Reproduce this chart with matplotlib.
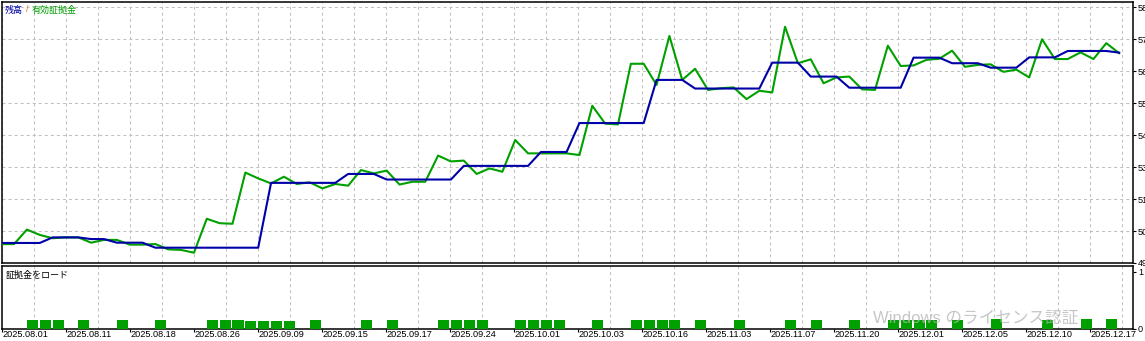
import matplotlib
matplotlib.use('Agg')
import matplotlib.pyplot as plt
import numpy as np

plt.rcParams['font.family'] = ['Liberation Sans', 'Noto Sans CJK JP']

# 残高 (balance) と 有効証拠金 (equity) - deal by deal
equity = [5028, 5028, 5080, 5061, 5049, 5052, 5052, 5033, 5043, 5043,
          5026, 5026, 5028, 5009, 5007, 4997, 5119, 5103, 5101, 5285,
          5264, 5246, 5270, 5244, 5250, 5228, 5244, 5238, 5294, 5282,
          5292, 5242, 5252, 5252, 5346, 5325, 5328, 5280, 5300, 5288,
          5402, 5354, 5354, 5354, 5354, 5348, 5525, 5461, 5458, 5676,
          5676, 5600, 5776, 5618, 5658, 5582, 5588, 5591, 5549, 5579,
          5573, 5809, 5678, 5692, 5606, 5627, 5630, 5584, 5582, 5741,
          5668, 5670, 5690, 5694, 5723, 5665, 5672, 5674, 5647, 5655,
          5627, 5764, 5693, 5693, 5717, 5693, 5750, 5714]

balance = [5032, 5032, 5032, 5032, 5052, 5052, 5052, 5046, 5046, 5033,
           5033, 5033, 5015, 5015, 5015, 5015, 5015, 5015, 5015, 5015,
           5015, 5248, 5248, 5248, 5248, 5248, 5248, 5280, 5280, 5280,
           5260, 5260, 5260, 5260, 5260, 5260, 5309, 5309, 5309, 5309,
           5309, 5309, 5359, 5359, 5359, 5463, 5463, 5463, 5463, 5463,
           5463, 5618, 5618, 5618, 5587, 5587, 5587, 5587, 5587, 5587,
           5680, 5680, 5680, 5630, 5630, 5630, 5590, 5590, 5590, 5590,
           5590, 5698, 5698, 5698, 5678, 5678, 5678, 5662, 5662, 5662,
           5699, 5699, 5699, 5722, 5722, 5722, 5722, 5716]

# 証拠金をロード (deposit load) - deal index and value
load_idx = [2, 3, 4, 6, 9, 12, 16, 17, 18, 19, 20, 21, 22, 24, 28, 30,
            34, 35, 36, 37, 40, 41, 42, 43, 46, 49, 50, 51, 52, 54, 57,
            61, 63, 66, 69, 70, 71, 72, 74, 77, 81, 84, 86]
load_val = [0.15, 0.15, 0.15, 0.15, 0.15, 0.15, 0.15, 0.15, 0.15, 0.135,
            0.135, 0.135, 0.135, 0.15, 0.15, 0.15, 0.15, 0.15, 0.15, 0.15,
            0.15, 0.15, 0.15, 0.15, 0.15, 0.15, 0.15, 0.15, 0.15, 0.15,
            0.15, 0.15, 0.15, 0.15, 0.15, 0.15, 0.15, 0.15, 0.15, 0.17,
            0.15, 0.17, 0.17]

date_labels = ['2025.08.01', '2025.08.11', '2025.08.18', '2025.08.26',
               '2025.09.09', '2025.09.15', '2025.09.17', '2025.09.24',
               '2025.10.01', '2025.10.03', '2025.10.16', '2025.11.03',
               '2025.11.07', '2025.11.20', '2025.12.01', '2025.12.05',
               '2025.12.10', '2025.12.17']
y_ticks = [4960, 5075, 5190, 5305, 5420, 5535, 5650, 5765, 5880]

BLUE = '#0000a8'
GREEN = '#00a000'
GRID = '#c0c0c0'
FS = 6.6

W, H = 1145, 341
fig = plt.figure(figsize=(W / 100, H / 100), dpi=100)


def px_axes(l, t, r, b):
    return fig.add_axes([l / W, 1 - b / H, (r - l) / W, (b - t) / H])


ax = px_axes(2, 2, 1133, 263)
ax2 = px_axes(2, 266, 1133, 329)

# one deal = 12.85 px, grid every 32 px
step = 12.85
xlim = ((2 - 1.2) / step, (1133 - 1.2) / step)
grid_x = (2 + 32 * np.arange(36) - 1.2) / step

x = np.arange(len(equity))
ax.plot(x, equity, color=GREEN, lw=1.5, zorder=3)
ax.plot(x, balance, color=BLUE, lw=1.5, zorder=4)
ax2.bar(load_idx, load_val, width=0.86, align='edge', color=GREEN, zorder=3)

for a in (ax, ax2):
    a.set_xlim(*xlim)
    for s in a.spines.values():
        s.set_linewidth(1.1)
        s.set_color('black')
    a.set_xticks(grid_x, minor=True)
    a.grid(True, which='minor', axis='x', color=GRID, lw=0.75,
           linestyle=(0, (2.9, 2.9)), zorder=0)
    a.yaxis.tick_right()
    a.tick_params(axis='y', length=2, pad=1.5, labelsize=FS)

ax.set_ylim(4960, 5898)
ax.set_yticks(y_ticks)
ax.set_yticklabels([str(v) for v in y_ticks])
ax.grid(True, axis='y', color=GRID, lw=0.75, linestyle=(0, (2.9, 2.9)), zorder=0)
ax.tick_params(axis='x', which='both', length=0, labelbottom=False)

ax2.set_ylim(0, 1.1)
ax2.set_yticks([0, 1])
ax2.set_yticklabels(['0', '1'])
ax2.set_xticks(grid_x[::2])
ax2.set_xticklabels(date_labels, ha='left')
ax2.tick_params(axis='x', which='major', length=2.5, width=0.8, pad=-1.9, labelsize=FS)
ax2.tick_params(axis='x', which='minor', length=0)

ty = 1 - 10 / H
fig.text(5 / W, ty, '残高', color=BLUE, fontsize=6.5, va='center')
fig.text(26 / W, ty, '/', color='#e07020', fontsize=6.5, va='center')
fig.text(32 / W, ty, '有効証拠金', color=GREEN, fontsize=6.5, va='center')
fig.text(6 / W, 1 - 275 / H, '証拠金をロード', color='black', fontsize=6.5, va='center')

fig.text(873 / W, 1 - 319 / H, 'Windows のライセンス認証', color='#b4b4b4',
         alpha=0.75, fontsize=12, va='center', zorder=10)

fig.savefig('out.png', dpi=100)
